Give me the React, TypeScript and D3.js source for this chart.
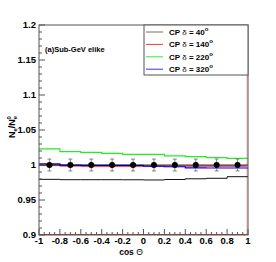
import * as d3 from "d3";

// bin edges in cos(theta)
const binEdges = [-1, -0.8, -0.6, -0.4, -0.2, 0, 0.2, 0.4, 0.6, 0.8, 1];
const binCenters = [-0.9, -0.7, -0.5, -0.3, -0.1, 0.1, 0.3, 0.5, 0.7, 0.9];

// ratio N_e / N_e^0 for each CP phase
const cp40 = [0.9795, 0.979, 0.979, 0.979, 0.9789, 0.9786, 0.9793, 0.9803, 0.981, 0.9833];
const cp140 = [1.0, 0.9988, 0.9985, 0.9985, 0.9985, 0.9986, 0.9986, 0.9986, 0.9986, 0.9986];
const cp220 = [1.0229, 1.019, 1.018, 1.0167, 1.0152, 1.0152, 1.0129, 1.0119, 1.0105, 1.0095];
const cp320 = [1.0015, 0.9998, 0.9996, 0.9995, 0.9994, 0.9982, 0.9975, 0.9958, 0.9957, 0.9957];

// pseudo data points (delta = 0 reference)
const dataY = [1, 1, 1, 1, 1, 1, 1, 1, 1, 1];
const dataErr = [0.0085, 0.0085, 0.0085, 0.0085, 0.0085, 0.0085, 0.0085, 0.0085, 0.0085, 0.0085];

const legendLabels = ["40", "140", "220", "320"];
const legendColors = ["#000000", "#ff0000", "#00e600", "#0000ff"];

const yTickVals = [0.9, 0.95, 1.0, 1.05, 1.1, 1.15, 1.2];
const yTickText = ["0.9", "0.95", "1", "1.05", "1.1", "1.15", "1.2"];
const xTickVals = [-1, -0.8, -0.6, -0.4, -0.2, 0, 0.2, 0.4, 0.6, 0.8, 1];
const xTickText = ["-1", "-0.8", "-0.6", "-0.4", "-0.2", "0", "0.2", "0.4", "0.6", "0.8", "1"];

const App = () => {
  const width = 276;
  const height = 262;
  const margin = { top: 25, bottom: 27, left: 39, right: 28 };

  const x = d3.scaleLinear().domain([-1, 1]).range([margin.left, width - margin.right]);
  const y = d3.scaleLinear().domain([0.9, 1.2]).range([height - margin.bottom, margin.top]);

  const line = d3.line<[number, number]>().x(d => x(d[0])).y(d => y(d[1]));

  const stepPts = (vals: number[]) => {
    const pts: [number, number][] = [];
    vals.forEach((v, i) => {
      pts.push([binEdges[i], v]);
      pts.push([binEdges[i + 1], v]);
    });
    return pts;
  };

  // shaded band around the red histogram
  const bandArea = d3.area<number>()
    .x((_, i) => x(i % 2 === 0 ? binEdges[Math.floor(i / 2)] : binEdges[Math.floor(i / 2) + 1]))
    .y0((_, i) => y(cp140[Math.floor(i / 2)] - 0.0018))
    .y1((_, i) => y(cp140[Math.floor(i / 2)] + 0.0003));
  const bandIdx = d3.range(20);

  const yMinor = d3.range(0.9, 1.2001, 0.01);
  const xMinor = d3.range(-1, 1.0001, 0.05);
  const font = "'Liberation Sans', Arial, sans-serif";

  const x0 = x(-1), x1 = x(1), yb = y(0.9), yt = y(1.2);

  return (
    <svg width={width} height={height} style={{ position: "absolute", left: 0, top: 0, background: "#fff" }}>
      <rect x={0} y={0} width={width} height={height} fill="#fff" />

      {/* shaded band */}
      <path d={bandArea(bandIdx) || ""} fill="#f4a0b0" opacity={0.7} />

      {/* red histogram, its baseline and pale right edge */}
      <path d={line(stepPts(cp140)) || ""} fill="none" stroke="#e00000" strokeWidth={1} />
      <line x1={x0} x2={x1} y1={yb - 0.5} y2={yb - 0.5} stroke="#c03030" strokeWidth={1} />
      <line x1={x1 - 1} x2={x1 - 1} y1={yt + 2} y2={yb} stroke="#f4b0b0" strokeWidth={1} />

      <path d={line(stepPts(cp40)) || ""} fill="none" stroke="#111" strokeWidth={1} />
      <path d={line(stepPts(cp220)) || ""} fill="none" stroke="#22ee22" strokeWidth={1.2} />
      <path d={line(stepPts(cp320)) || ""} fill="none" stroke="#0000ff" strokeWidth={1.2} />
      <path d={line(stepPts(dataY)) || ""} fill="none" stroke="#000" strokeWidth={0.8} />

      {/* data points with error bars */}
      {binCenters.map((c, i) => (
        <g key={"p" + i}>
          <line x1={x(c)} x2={x(c)} y1={y(dataY[i] - dataErr[i])} y2={y(dataY[i] + dataErr[i])}
            stroke="#666" strokeWidth={0.8} />
          <line x1={x(c) - 2} x2={x(c) + 2} y1={y(dataY[i] - dataErr[i])} y2={y(dataY[i] - dataErr[i])} stroke="#666" strokeWidth={0.8} />
          <line x1={x(c) - 2} x2={x(c) + 2} y1={y(dataY[i] + dataErr[i])} y2={y(dataY[i] + dataErr[i])} stroke="#666" strokeWidth={0.8} />
          <circle cx={x(c)} cy={y(dataY[i])} r={3} fill="#000" />
        </g>
      ))}

      {/* frame */}
      <rect x={x0} y={yt} width={x1 - x0} height={yb - yt} fill="none" stroke="#555" strokeWidth={1} />

      {/* y ticks */}
      {yMinor.map((v, i) => (
        <line key={"ym" + i} x1={x0} x2={x0 + (i % 5 === 0 ? 6 : 3)} y1={y(v)} y2={y(v)} stroke="#555" />
      ))}
      {yTickVals.map((v, i) => (
        <text key={"yt" + i} x={x0 - 3} y={y(v)} dy="0.35em" textAnchor="end"
          fontFamily={font} fontWeight="bold" fontSize={9.5}>{yTickText[i]}</text>
      ))}

      {/* x ticks */}
      {xMinor.map((v, i) => (
        <line key={"xm" + i} x1={x(v)} x2={x(v)} y1={yb} y2={yb - (i % 4 === 0 ? 6 : 3)} stroke="#555" />
      ))}
      {xTickVals.map((v, i) => (
        <text key={"xt" + i} x={x(v)} y={yb + 9} textAnchor="middle"
          fontFamily={font} fontWeight="bold" fontSize={9.5}>{xTickText[i]}</text>
      ))}

      {/* axis titles */}
      <text x={131} y={255} textAnchor="middle" fontFamily={font} fontWeight="bold" fontSize={8.5}>
        cos <tspan fontWeight="normal">Θ</tspan>
      </text>
      <text transform="translate(15,127) rotate(-90)" textAnchor="middle" fontFamily={font} fontWeight="bold" fontSize={9}>
        N<tspan fontSize={6} dy={2}>e</tspan><tspan dy={-2}>/N</tspan><tspan fontSize={6} dy={2}>e</tspan><tspan fontSize={6} dx={-3.5} dy={-6}>0</tspan>
      </text>

      <text x={45} y={52} fontFamily={font} fontWeight="bold" fontSize={7.5}>(a)Sub-GeV elike</text>

      {/* legend */}
      <rect x={144} y={yt} width={x1 - 144} height={50} fill="#fff" stroke="#555" strokeWidth={1} />
      {legendLabels.map((lab, i) => (
        <g key={"lg" + i}>
          <line x1={146} x2={163} y1={32 + i * 12.4} y2={32 + i * 12.4} stroke={legendColors[i]}
            strokeWidth={1} opacity={i === 0 ? 0.55 : 0.8} />
          <text x={169} y={32 + i * 12.4} dy="0.35em" fontFamily={font} fontWeight="bold" fontSize={8}>
            CP <tspan fontWeight="normal">δ</tspan> = {lab}<tspan fontSize={6} dy={-4}>o</tspan>
          </text>
        </g>
      ))}
    </svg>
  );
};

export default App;
